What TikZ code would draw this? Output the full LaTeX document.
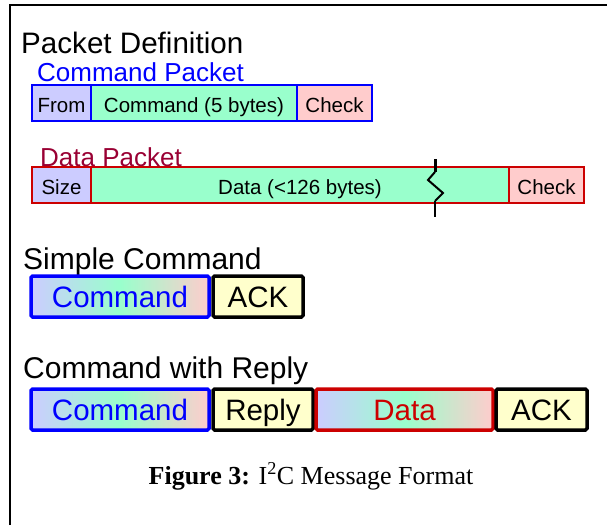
\documentclass[tikz,border=0pt]{standalone}
\usepackage{fontspec}
\setmainfont{Liberation Sans}
\newfontfamily\capfont{Liberation Serif}
\definecolor{lav}{HTML}{CCCCFF}
\definecolor{mint}{HTML}{99FFCC}
\definecolor{pinkish}{HTML}{FFCCCC}
\definecolor{paleyellow}{HTML}{FFFFCC}
\definecolor{pureblue}{HTML}{0000FF}
\definecolor{datared}{HTML}{CC0000}
\definecolor{labelred}{HTML}{990033}
\tikzset{
  heading/.style={anchor=base west, inner sep=0pt, font=\fontsize{30}{35}\selectfont},
  sublabel/.style={anchor=base west, inner sep=0pt, font=\fontsize{26}{31}\selectfont},
  field/.style={anchor=north west, inner sep=0pt, outer sep=0pt, line width=2pt,
    font=\fontsize{20.5}{24}\selectfont, text height=19pt, text depth=0pt},
  cmdfield/.style={field, draw=pureblue, minimum height=36pt},
  datafield/.style={field, draw=datared, line width=2.5pt, minimum height=36pt},
  msg/.style={anchor=north west, inner sep=0pt, outer sep=0pt, line width=3.5pt,
    rounded corners=1.5pt, minimum height=41pt,
    font=\fontsize{29.5}{34}\selectfont, text height=21pt, text depth=0pt},
  grad/.style={left color=lav, right color=pinkish, middle color=mint},
  cmdmsg/.style={msg, draw=pureblue, grad, text=pureblue},
  ackmsg/.style={msg, draw=black, fill=paleyellow},
  datamsg/.style={msg, draw=datared, grad, text=datared},
}
\begin{document}
\begin{tikzpicture}[x=1pt, y=-1pt]
\useasboundingbox (0,0) rectangle (607,525);
% frame
\coordinate (fb) at (10,525);
\coordinate (fc) at (10,5);
\coordinate (fr) at (607,5);
\draw[line width=2.5pt] (fb) -- (fc) -- (fr);

\node[heading, font=\fontsize{29.6}{35}\selectfont] (title) at (21,53) {Packet Definition};

% command packet
\node[sublabel, text=pureblue] (cplabel) at (37,81) {Command Packet};
\node[cmdfield, fill=lav, minimum width=59pt] (from) at (32,85) {From};
\node[cmdfield, fill=mint, minimum width=206pt] (cmd5) at (91,85) {Command (5 bytes)};
\node[cmdfield, fill=pinkish, minimum width=75pt] (check1) at (297,85) {Check};

% data packet
\node[sublabel, text=labelred] (dplabel) at (40,166) {Data Packet};
\node[datafield, fill=lav, minimum width=59pt] (size) at (32,167) {Size};
\node[datafield, fill=mint, minimum width=418pt] (data126) at (91,167) {Data (<126 bytes)};
\node[datafield, fill=pinkish, minimum width=75pt] (check2) at (509,167) {Check};

% break mark
\coordinate (b0) at (435,159);
\coordinate (b1) at (435,172);
\coordinate (b2) at (428,180);
\coordinate (b3) at (443,193);
\coordinate (b4) at (435,201);
\coordinate (b5) at (435,217);
\draw[line width=3pt] (b0) -- (b1);
\draw[line width=2pt, line join=miter] (b1) -- (b2) -- (b3) -- (b4);
\draw[line width=1.6pt] (b4) -- (b5);

% simple command
\node[heading] (simple) at (23,269) {Simple Command};
\node[cmdmsg, minimum width=178pt] (scmd) at (31,276) {Command};
\node[ackmsg, minimum width=90pt] (sack) at (213,276) {ACK};

% command with reply
\node[heading] (withreply) at (23,378) {Command with Reply};
\node[cmdmsg, minimum width=178pt] (rcmd) at (31,389) {Command};
\node[ackmsg, minimum width=100pt] (reply) at (213,389) {Reply};
\node[datamsg, minimum width=177pt] (rdata) at (316,389) {Data};
\node[ackmsg, minimum width=91pt] (rack) at (496,389) {ACK};

% caption
\node[anchor=base, inner sep=0pt, font=\capfont\fontsize{26}{31}\selectfont] (caption) at (311,484)
  {\textbf{Figure 3:} I\textsuperscript{2}C Message Format};
\end{tikzpicture}
\end{document}
